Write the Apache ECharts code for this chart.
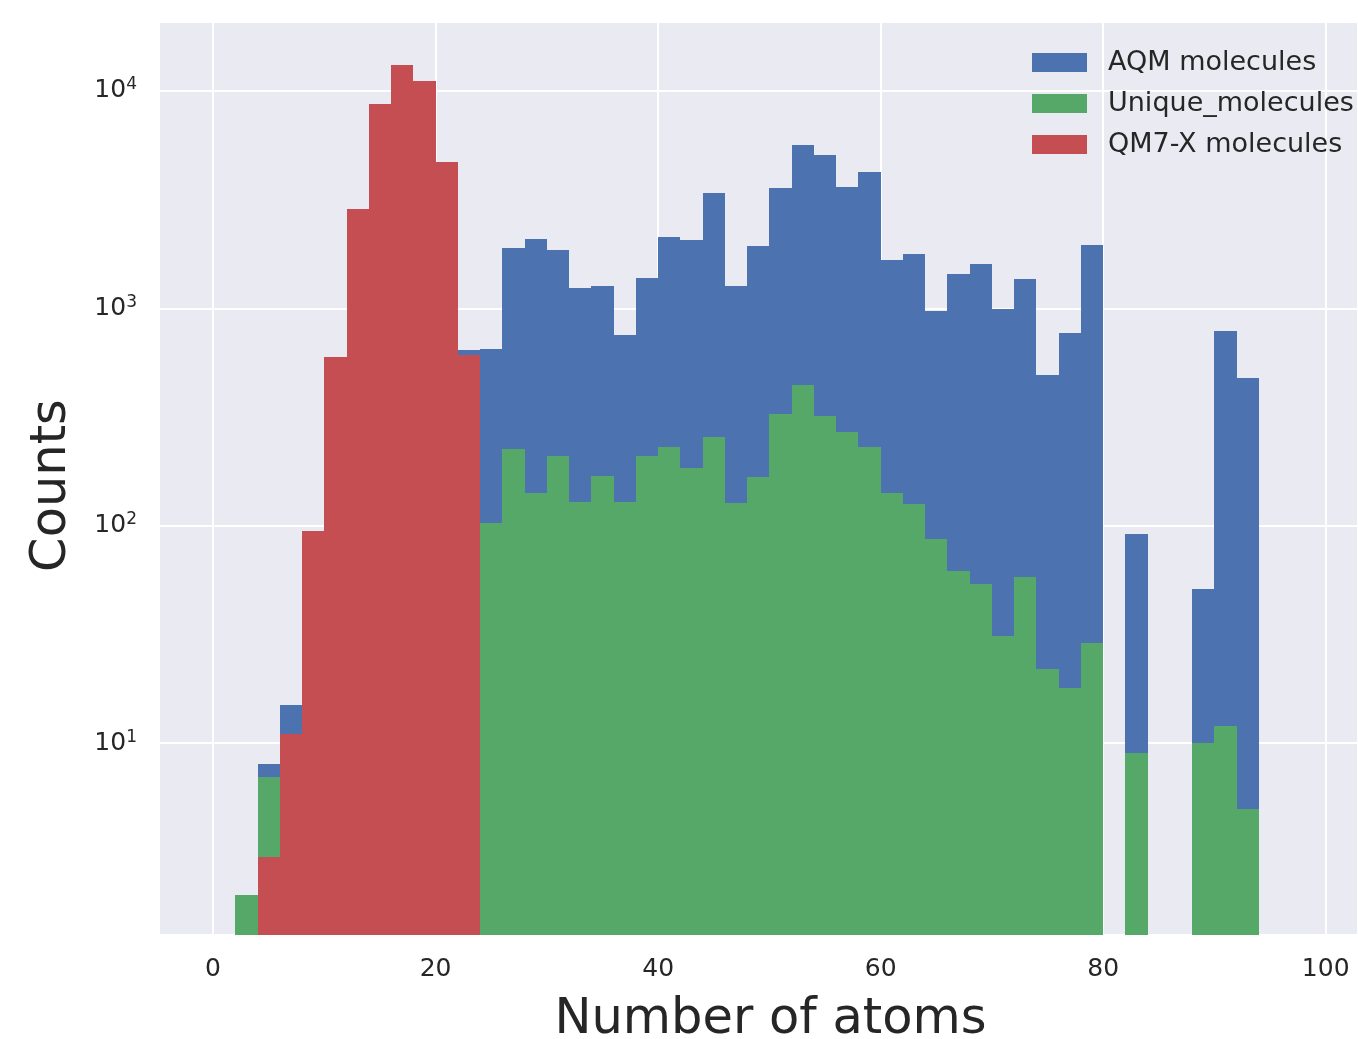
<!DOCTYPE html>
<html>
<head>
<meta charset="utf-8">
<script src="https://cdn.jsdelivr.net/npm/echarts@6/dist/echarts.min.js"></script>
<style>
  html, body { margin: 0; padding: 0; background: #ffffff; }
  #chart { width: 1358px; height: 1039px; }
</style>
</head>
<body>
<div id="chart"></div>
<script>
// Histogram bins (width 2 atoms), left edges
var binStart = [2, 4, 6, 8, 10, 12, 14, 16, 18, 20, 22, 24, 26, 28, 30, 32, 34, 36, 38, 40,
                42, 44, 46, 48, 50, 52, 54, 56, 58, 60, 62, 64, 66, 68, 70, 72, 74, 76, 78, 80,
                82, 84, 86, 88, 90, 92];
var binWidth = 2;

// Counts per bin (null = empty bin)
var aqmCounts = [2, 8, 15, 90, 570, 2750, 8300, 12600, 10600, 4500, 646, 650, 1893, 2090, 1849, 1239, 1268, 751, 1377, 2128,
                 2070, 3404, 1268, 1928, 3590, 5610, 5070, 3614, 4250, 1675, 1771, 968, 1432, 1592, 989, 1370, 495, 767, 1963, null,
                 92, null, null, 51, 789, 479];
var uniqueCounts = [2, 7, 9, 40, 120, 300, 400, 450, 400, 300, 150, 103, 226, 141, 209, 129, 169, 129, 209, 230,
                    185, 256, 127, 167, 326, 443, 318, 269, 230, 141, 126, 87, 62, 54, 31, 58, 22, 18, 29, null,
                    9, null, null, 10, 12, 5];
var qm7xCounts = [null, 3, 11, 95, 597, 2870, 8670, 13180, 11150, 4730, 608, null, null, null, null, null, null, null, null, null,
                  null, null, null, null, null, null, null, null, null, null, null, null, null, null, null, null, null, null, null, null,
                  null, null, null, null, null, null];

var seriesNames = ['AQM molecules', 'Unique_molecules', 'QM7-X molecules'];
var seriesColors = ['#4C72B0', '#55A868', '#C44E52'];
var xTickValues = [0, 20, 40, 60, 80, 100];

var X_MIN = -4.86, X_MAX = 102.9;
var Y_MIN = 1.31, Y_MAX = 20750;

function toBins(counts) {
  var out = [];
  for (var i = 0; i < binStart.length; i++) {
    if (counts[i] != null) out.push([binStart[i], binStart[i] + binWidth, counts[i]]);
  }
  return out;
}

function renderItem(params, api) {
  var x0 = api.value(0), x1 = api.value(1), v = api.value(2);
  var tl = api.coord([x0, v]);
  var br = api.coord([x1, Y_MIN]);
  var l = Math.round(tl[0]), r = Math.round(br[0]);
  var t = Math.round(tl[1]), b = Math.round(br[1]);
  return {
    type: 'rect',
    shape: { x: l, y: t, width: r - l, height: b - t },
    style: { fill: api.visual('color') }
  };
}

var allCounts = [aqmCounts, uniqueCounts, qm7xCounts];
var series = allCounts.map(function (c, i) {
  return {
    name: seriesNames[i],
    type: 'custom',
    renderItem: renderItem,
    data: toBins(c),
    encode: { x: [0, 1], y: 2 },
    itemStyle: { color: seriesColors[i] },
    z: 2 + i,
    clip: true,
    silent: true
  };
});

var supMap = { 1: '1', 2: '2', 3: '3', 4: '4' };

var chart = echarts.init(document.getElementById('chart'), null, { renderer: 'canvas' });
chart.setOption({
  animation: false,
  backgroundColor: '#ffffff',
  textStyle: { fontFamily: 'DejaVu Sans' },
  grid: {
    left: 159, right: 0, top: 22, bottom: 104,
    containLabel: false,
    outerBoundsMode: 'none',
    show: true, backgroundColor: '#EAEAF2', borderWidth: 0
  },
  legend: {
    orient: 'vertical',
    left: 1032, top: 49,
    padding: 0,
    itemWidth: 55, itemHeight: 19,
    itemGap: 14,
    icon: 'rect',
    data: seriesNames,
    textStyle: { fontFamily: 'DejaVu Sans', fontSize: 27, color: '#262626', padding: [0, 0, 0, 16] }
  },
  xAxis: {
    type: 'value',
    min: X_MIN, max: X_MAX,
    splitNumber: 5,
    name: 'Number of atoms',
    nameLocation: 'middle',
    nameGap: 60,
    nameTextStyle: { fontFamily: 'DejaVu Sans', fontSize: 49.5, color: '#262626', padding: [0, 0, 0, 24] },
    axisLine: { show: false },
    axisTick: { show: false },
    axisLabel: {
      margin: 22,
      fontFamily: 'DejaVu Sans', fontSize: 25, color: '#262626',
      showMinLabel: false, showMaxLabel: false,
      formatter: function (v) { return xTickValues.indexOf(Math.round(v * 1000) / 1000) >= 0 ? String(Math.round(v)) : ''; }
    },
    splitLine: { show: true, lineStyle: { color: '#ffffff', width: 2 } }
  },
  yAxis: {
    type: 'log',
    logBase: 10,
    min: Y_MIN, max: Y_MAX,
    name: 'Counts',
    nameLocation: 'middle',
    nameGap: 82,
    nameTextStyle: { fontFamily: 'DejaVu Sans', fontSize: 49.5, color: '#262626', padding: [0, 14, 0, 0] },
    axisLine: { show: false },
    axisTick: { show: false },
    axisLabel: {
      margin: 22,
      showMinLabel: false, showMaxLabel: false,
      formatter: function (v) {
        var lg = Math.log10(v);
        var e = Math.round(lg);
        if (Math.abs(lg - e) > 1e-6 || e < 1 || e > 4) return '';
        return '{b|10}{s|' + supMap[e] + '}';
      },
      rich: {
        b: { fontFamily: 'DejaVu Sans', fontSize: 25, color: '#262626' },
        s: { fontFamily: 'DejaVu Sans', fontSize: 17, color: '#262626', padding: [0, 0, 12, 0] }
      }
    },
    splitLine: { show: true, lineStyle: { color: '#ffffff', width: 2 } }
  },
  series: series
});
</script>
</body>
</html>
